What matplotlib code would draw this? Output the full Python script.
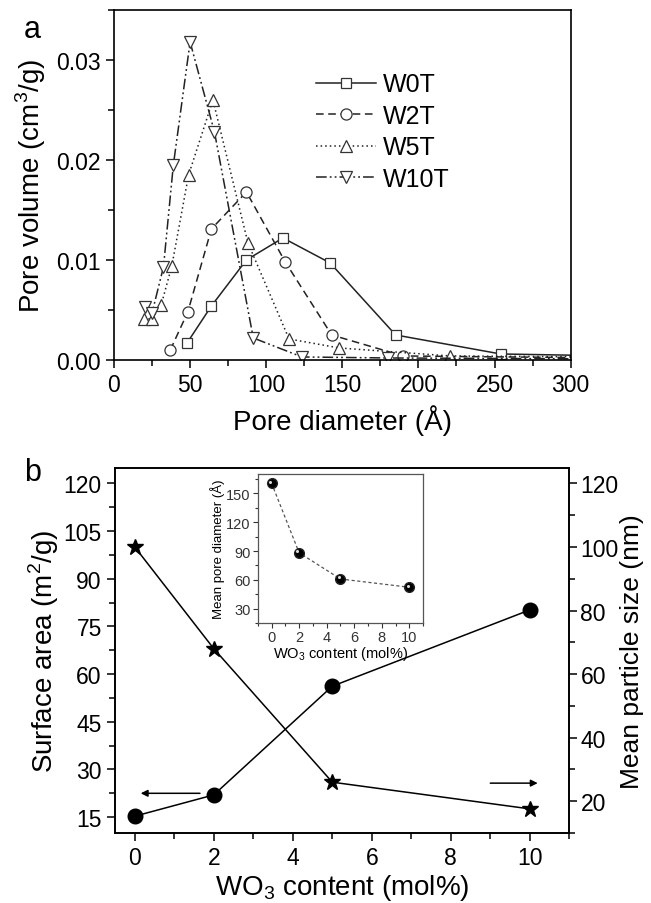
import numpy as np
import matplotlib
matplotlib.use('Agg')
import matplotlib.pyplot as plt
from matplotlib.ticker import MultipleLocator, FormatStrFormatter
from matplotlib import transforms

# ── data: panel a (pore size distribution) ──
w0t_d = [48, 64, 87, 111, 142, 185, 254, 330]
w0t_v = [0.0017, 0.0054, 0.0100, 0.0122, 0.0097, 0.0025, 0.0006, 0.0004]
w2t_d = [37, 48.5, 64, 87, 112.5, 143, 190, 330]
w2t_v = [0.0010, 0.0048, 0.0131, 0.0168, 0.0098, 0.0025, 0.0004, 0.0002]
w5t_d = [19.5, 25, 31, 38, 49, 65, 88, 115, 148, 221, 330]
w5t_v = [0.0041, 0.0041, 0.0055, 0.0094, 0.0185, 0.0260, 0.0117, 0.0021, 0.0012, 0.0004, 0.0003]
w10t_d = [20.5, 25, 32.5, 39, 50, 66, 91.5, 123.5, 180, 330]
w10t_v = [0.0053, 0.0047, 0.0093, 0.0195, 0.0318, 0.0228, 0.0022, 0.0003, 0.0002, 0.0001]

# ── data: panel b ──
wo3 = [0, 2, 5, 10]
surface_area = [15.3, 22.0, 56.2, 80.2]
particle_size = [100.0, 68.0, 26.0, 17.6]
pore_diam = [160.4, 88.2, 61.0, 52.4]

FONT = ['Liberation Sans', 'DejaVu Sans']

plt.rcParams['font.family'] = FONT
plt.rcParams['mathtext.fontset'] = 'custom'
plt.rcParams['mathtext.rm'] = 'Liberation Sans'
plt.rcParams['axes.linewidth'] = 1.2

fig = plt.figure(figsize=(6.51, 9.04), dpi=100)

# ───────────── panel a ─────────────
ax = fig.add_axes([0.1751, 0.6007, 0.7015, 0.3872])
dadd = (0, (7, 2, 1.2, 2, 1.2, 2))
ax.plot(w0t_d, w0t_v, '-', color='#222222', lw=1.1, marker='s', ms=7.5,
        mfc='white', mec='#333333', mew=0.9, label='W0T')
ax.plot(w2t_d, w2t_v, color='#222222', lw=1.1, ls=(0, (5, 3)), marker='o', ms=8,
        mfc='white', mec='#333333', mew=0.9, label='W2T')
ax.plot(w5t_d, w5t_v, color='#222222', lw=1.1, ls=(0, (1, 2)), marker='^', ms=9,
        mfc='white', mec='#333333', mew=0.9, label='W5T')
ax.plot(w10t_d, w10t_v, color='#222222', lw=1.1, ls=dadd, marker='v', ms=9,
        mfc='white', mec='#333333', mew=0.9, label='W10T')

ax.set_xlim(0, 300)
ax.set_ylim(0, 0.035)
ax.xaxis.set_major_locator(MultipleLocator(50))
ax.xaxis.set_minor_locator(MultipleLocator(25))
ax.yaxis.set_major_locator(MultipleLocator(0.01))
ax.yaxis.set_minor_locator(MultipleLocator(0.005))
ax.yaxis.set_major_formatter(FormatStrFormatter('%.2f'))
ax.tick_params(which='both', direction='out', top=False, right=False, labelsize=16.5)
ax.tick_params(which='major', length=6, width=1.1)
ax.tick_params(which='minor', length=4, width=1.1)
ax.set_xlabel('Pore diameter (Å)', fontsize=20, labelpad=6)
ax.set_ylabel('Pore volume (cm$^3$/g)', fontsize=20, labelpad=6)
ax.legend(loc='upper left', bbox_to_anchor=(0.42, 0.85), frameon=False,
          fontsize=18, handlelength=2.4, handletextpad=0.3, labelspacing=0.3,
          borderaxespad=0)
fig.text(0.05, 0.967, 'a', fontsize=22, ha='center', va='center')

# ───────────── panel b ─────────────
axb = fig.add_axes([0.1767, 0.0774, 0.6978, 0.4043])
axr = axb.twinx()

axb.plot(wo3, surface_area, '-', color='black', lw=1.1, marker='o', ms=10.5,
         mfc='black', mec='black', zorder=3)
axr.plot(wo3, particle_size, '-', color='black', lw=1.1, marker='*', ms=12,
         mfc='black', mec='black', zorder=3)

axb.set_xlim(-0.5, 11)
axb.set_ylim(10, 125)
axr.set_ylim(10, 125)
axb.xaxis.set_major_locator(MultipleLocator(2))
axb.xaxis.set_minor_locator(MultipleLocator(1))
axb.yaxis.set_major_locator(MultipleLocator(15))
axb.yaxis.set_minor_locator(MultipleLocator(7.5))
axr.yaxis.set_major_locator(MultipleLocator(20))
axr.yaxis.set_minor_locator(MultipleLocator(10))
for a in (axb, axr):
    a.tick_params(which='major', length=6, width=1.1)
    a.tick_params(which='minor', length=4, width=1.1)
axb.tick_params(which='both', direction='out', top=False, right=False, labelsize=16.5)
axr.tick_params(which='both', direction='out', labelsize=16.5, pad=2)

axb.set_xlabel('WO$_3$ content (mol%)', fontsize=20, labelpad=2)
axb.set_ylabel('Surface area (m$^2$/g)', fontsize=20, labelpad=2)
axr.set_ylabel('Mean particle size (nm)', fontsize=19, labelpad=1)

axb.annotate('', xy=(0.15, 22.5), xytext=(1.65, 22.5),
             arrowprops=dict(arrowstyle='-|>', color='black', lw=1.1,
                             mutation_scale=10, shrinkA=0, shrinkB=0))
axr.annotate('', xy=(10.2, 25.7), xytext=(9.0, 25.7),
             arrowprops=dict(arrowstyle='-|>', color='black', lw=1.1,
                             mutation_scale=10, shrinkA=0, shrinkB=0))
fig.text(0.05, 0.477, 'b', fontsize=22, ha='center', va='center')

# ── inset ──
axi = fig.add_axes([0.396, 0.3094, 0.254, 0.1652])
axi.plot(wo3, pore_diam, color='#555555', lw=0.9, ls=(0, (2.5, 2)), zorder=2)
axi.plot(wo3, pore_diam, ls='none', marker='o', ms=7, mfc='black',
         mec='#222222', zorder=3)
hl = transforms.offset_copy(axi.transData, fig=fig, x=-1.2, y=1.2, units='points')
axi.plot(wo3, pore_diam, ls='none', marker='o', ms=2.2, mfc='#dddddd',
         mec='none', transform=hl, zorder=4)
axi.set_xlim(-1, 11)
axi.set_ylim(15, 170)
axi.xaxis.set_major_locator(MultipleLocator(2))
axi.xaxis.set_minor_locator(MultipleLocator(1))
axi.yaxis.set_major_locator(MultipleLocator(30))
axi.yaxis.set_minor_locator(MultipleLocator(15))
axi.tick_params(which='both', direction='out', top=False, right=False,
                labelsize=10.5, pad=1.5, colors='#333333', width=0.8)
axi.tick_params(which='major', length=3.5)
axi.tick_params(which='minor', length=2)
for s in axi.spines.values():
    s.set_linewidth(0.9)
    s.set_color('#555555')
axi.set_xlabel('WO$_3$ content (mol%)', fontsize=10.5, labelpad=0)
axi.set_ylabel('Mean pore diameter (Å)', fontsize=9.5, labelpad=1)

fig.savefig('out.png', dpi=100, facecolor='white')
